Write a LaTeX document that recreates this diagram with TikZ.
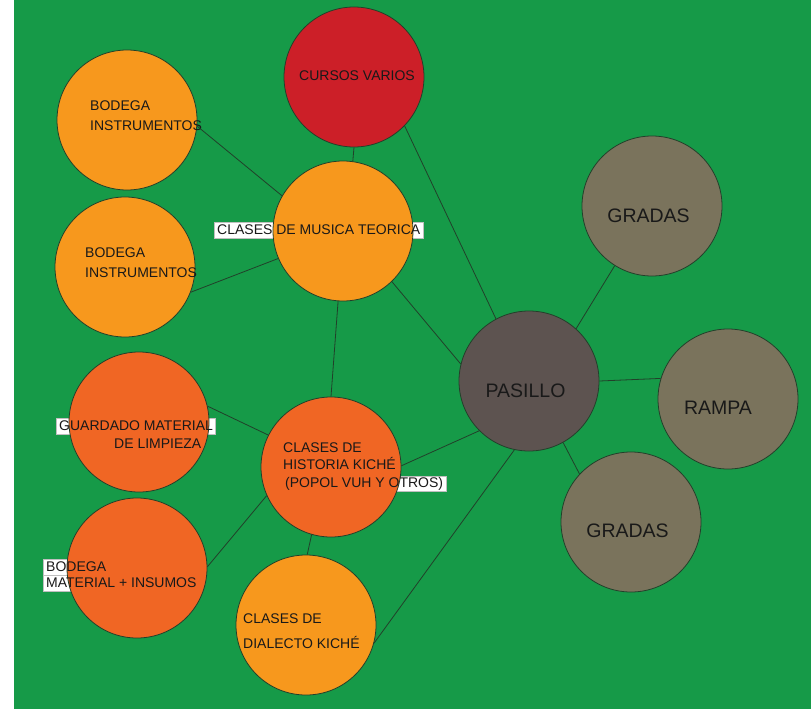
\documentclass[tikz,border=0pt]{standalone}
\usepackage{fontspec}
\setmainfont{Liberation Sans}
\usepackage{tikz}

\definecolor{grass}{HTML}{169A48}
\definecolor{amber}{HTML}{F7981D}
\definecolor{tangerine}{HTML}{F06624}
\definecolor{crimson}{HTML}{CC1F28}
\definecolor{taupe}{HTML}{7A735C}
\definecolor{slate}{HTML}{5D5350}
\definecolor{rim}{HTML}{22402A}

\pgfdeclarelayer{bg}
\pgfdeclarelayer{disks}
\pgfsetlayers{bg,disks,main}

\begin{document}
\begin{tikzpicture}[x=1pt, y=-1pt,
    disk/.style={circle, draw=rim, line width=0.8pt, minimum size=140pt, inner sep=0pt},
    lbl/.style={anchor=base west, inner xsep=2.5pt, inner ysep=1.5pt, text height=10pt, text depth=2pt,
                font=\fontsize{14}{16}\selectfont, text=black!90},
    big/.style={anchor=base, font=\fontsize{19.5}{22}\selectfont, text=black!90},
    link/.style={draw=rim, line width=0.8pt}]
    \useasboundingbox (0,0) rectangle (811,709);
    \begin{pgfonlayer}{bg}
        \fill[grass] (14,0) rectangle (811,709);
    \end{pgfonlayer}

    % the rooms
    \begin{pgfonlayer}{disks}
        \node[disk, fill=crimson] (cursos) at (354,77) {};
        \node[disk, fill=amber] (bod1) at (127,120) {};
        \node[disk, fill=amber] (bod2) at (125,267) {};
        \node[disk, fill=amber] (musica) at (343,231) {};
        \node[disk, fill=tangerine] (guard) at (139,422) {};
        \node[disk, fill=tangerine] (bodmat) at (137,568) {};
        \node[disk, fill=tangerine] (historia) at (331,467) {};
        \node[disk, fill=amber] (dialecto) at (306,625) {};
        \node[disk, fill=slate] (pasillo) at (529,381) {};
        \node[disk, fill=taupe] (gradas1) at (652,206) {};
        \node[disk, fill=taupe] (rampa) at (728,399) {};
        \node[disk, fill=taupe] (gradas2) at (631,522) {};
    \end{pgfonlayer}

    % labels
    \node[lbl, anchor=base] (cursos-t) at (357,81) {CURSOS VARIOS};
    \node[lbl] (bod1-a) at (87.5,110.5) {BODEGA};
    \node[lbl] (bod1-b) at (87.5,130.5) {INSTRUMENTOS};
    \node[lbl] (bod2-a) at (82.5,257) {BODEGA};
    \node[lbl] (bod2-b) at (82.5,277) {INSTRUMENTOS};
    \node[lbl] (musica-t) at (214.5,234) {CLASES DE MUSICA TEORICA};
    \node[lbl] (guard-a) at (56.5,430) {GUARDADO MATERIAL};
    \node[lbl] (guard-b) at (111.5,448) {DE LIMPIEZA};
    \node[lbl] (bodmat-a) at (43.5,571) {BODEGA};
    \node[lbl] (bodmat-b) at (43.5,587) {MATERIAL + INSUMOS};
    \node[lbl] (hist-a) at (280.5,452) {CLASES DE};
    \node[lbl] (hist-b) at (280.5,469) {HISTORIA KICHÉ};
    \node[lbl] (hist-c) at (282.5,487.5) {(POPOL VUH Y OTROS)};
    \node[lbl] (dial-a) at (240.5,623) {CLASES DE};
    \node[lbl] (dial-b) at (240.5,648) {DIALECTO KICHÉ};
    \node[big] (pasillo-t) at (525.5,397) {PASILLO};
    \node[big] (gradas1-t) at (648.5,222) {GRADAS};
    \node[big] (rampa-t) at (718,414) {RAMPA};
    \node[big] (gradas2-t) at (627.5,537) {GRADAS};

    % white boxes that show round the labels
    \begin{pgfonlayer}{bg}
        \foreach \n in {musica-t, guard-a, bodmat-a, bodmat-b, hist-c}
            \filldraw[fill=white, draw=black!25, line width=0.4pt] (\n.south west) rectangle (\n.north east);
    \end{pgfonlayer}

    % links
    \draw[link] (bod1.-5) -- (musica.150);
    \draw[link] (bod2.-21) -- (musica.-157);
    \draw[link] (cursos.-90) -- (musica.82);
    \draw[link] (cursos.-44) -- (pasillo.118);
    \draw[link] (musica.-46) -- (pasillo.166);
    \draw[link] (musica.-94) -- (historia.90);
    \draw[link] (guard.13) -- (historia.153);
    \draw[link] (bodmat.1) -- (historia.-156);
    \draw[link] (historia.-106) -- (dialecto.89);
    \draw[link] (historia.1) -- (pasillo.-135);
    \draw[link] (dialecto.-15) -- (pasillo.-102);
    \draw[link] (pasillo.48) -- (gradas1.-122);
    \draw[link] (pasillo.0) -- (rampa.163);
    \draw[link] (pasillo.-61) -- (gradas2.137);
\end{tikzpicture}
\end{document}
